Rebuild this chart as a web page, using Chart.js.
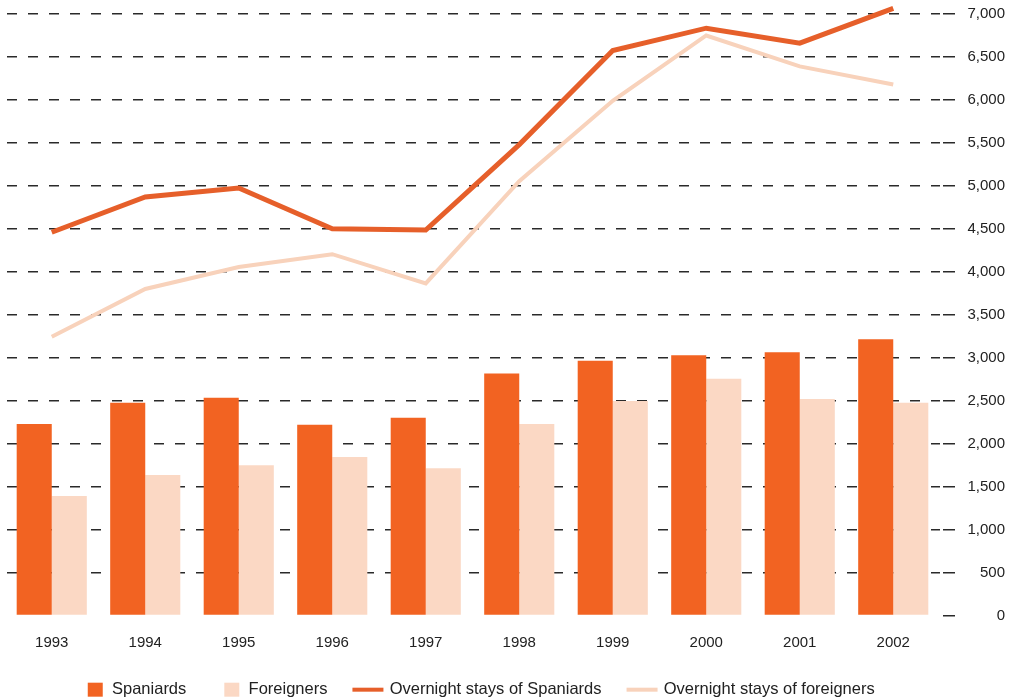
<!DOCTYPE html>
<html>
<head>
<meta charset="utf-8">
<script src="https://cdn.jsdelivr.net/npm/chart.js@4"></script>
<style>
  html, body { margin: 0; padding: 0; background: #ffffff; }
  #wrap { position: relative; width: 1019px; height: 699px; }
</style>
</head>
<body>
<div id="wrap"><canvas id="c" width="1019" height="699"></canvas></div>
<script>
// ---- data ----
const years = ['1993','1994','1995','1996','1997','1998','1999','2000','2001','2002'];
const spaniards = [2230, 2475, 2535, 2220, 2300, 2815, 2965, 3030, 3065, 3215];
const foreigners = [1390, 1635, 1750, 1845, 1715, 2230, 2495, 2755, 2520, 2475];
const staysSpaniards = [4460, 4870, 4975, 4500, 4485, 5480, 6575, 6835, 6660, 7065];
const staysForeigners = [3245, 3800, 4055, 4205, 3865, 5055, 5990, 6750, 6390, 6180];
const yTickValues = [0, 500, 1000, 1500, 2000, 2500, 3000, 3500, 4000, 4500, 5000, 5500, 6000, 6500, 7000];
const legendLabels = ['Spaniards', 'Foreigners', 'Overnight stays of Spaniards', 'Overnight stays of foreigners'];

// ---- styles ----
const C_SPA_BAR = '#F26322';
const C_FOR_BAR = '#FBD8C4';
const C_SPA_LINE = '#E65F2A';
const C_FOR_LINE = '#F8D2BB';
const TEXT = '#222222';
const GRID = '#2a2a2a';
const FONT = "'Liberation Sans', Arial, Helvetica, sans-serif";

function symbolCanvas(kind, color) {
  const cv = document.createElement('canvas');
  cv.width = 60; cv.height = 16;
  const g = cv.getContext('2d');
  g.fillStyle = color;
  if (kind === 'box') {
    g.fillRect(40, 1, 15, 14);
  } else {
    g.fillRect(27, 6, 31, 4);
  }
  return cv;
}
const symbols = [
  symbolCanvas('box', C_SPA_BAR),
  symbolCanvas('box', C_FOR_BAR),
  symbolCanvas('line', C_SPA_LINE),
  symbolCanvas('line', C_FOR_LINE)
];

const legendShift = {
  id: 'legendShift',
  afterLayout(chart) {
    const lg = chart.legend;
    if (!lg) return;
    const dx = 44.75, dy = 8.9;
    lg.left += dx; lg.right += dx;
    lg.top += dy; lg.bottom += dy;
  }
};

new Chart(document.getElementById('c'), {
  type: 'bar',
  data: {
    labels: years,
    datasets: [
      { type: 'bar', label: legendLabels[0], data: spaniards, backgroundColor: C_SPA_BAR, order: 2,
        categoryPercentage: 0.75, barPercentage: 1.0 },
      { type: 'bar', label: legendLabels[1], data: foreigners, backgroundColor: C_FOR_BAR, order: 2,
        categoryPercentage: 0.75, barPercentage: 1.0 },
      { type: 'line', label: legendLabels[2], data: staysSpaniards, borderColor: C_SPA_LINE, borderWidth: 5,
        pointRadius: 0, tension: 0, order: 0, clip: false, borderJoinStyle: 'miter' },
      { type: 'line', label: legendLabels[3], data: staysForeigners, borderColor: C_FOR_LINE, borderWidth: 4,
        pointRadius: 0, tension: 0, order: 1, clip: false, borderJoinStyle: 'miter' }
    ]
  },
  options: {
    responsive: false,
    animation: false,
    devicePixelRatio: 1,
    layout: { padding: { left: 5, right: 14, top: 14, bottom: 0 } },
    plugins: {
      tooltip: { enabled: false },
      legend: {
        display: true,
        position: 'bottom',
        align: 'start',
        labels: {
          usePointStyle: true,
          pointStyleWidth: 52,
          boxHeight: 16,
          padding: 2,
          color: TEXT,
          font: { family: FONT, size: 16.5 },
          generateLabels() {
            return legendLabels.map((t, i) => ({
              text: t, pointStyle: symbols[i], fillStyle: 'rgba(0,0,0,0)', strokeStyle: 'rgba(0,0,0,0)',
              lineWidth: 0, hidden: false, datasetIndex: i, fontColor: TEXT
            }));
          }
        }
      }
    },
    scales: {
      x: {
        grid: { display: false, drawTicks: false },
        border: { display: false },
        ticks: { color: TEXT, font: { family: FONT, size: 15 }, padding: 18.5 }
      },
      y: {
        position: 'right',
        min: 0,
        max: 7000,
        afterBuildTicks(scale) { scale.ticks = yTickValues.map(v => ({ value: v })); },
        afterFit(scale) { scale.width = 65; scale.paddingTop = 0; scale.paddingBottom = 0; },
        border: { display: false, dash: [10, 11], dashOffset: -2 },
        grid: {
          color: (ctx) => (ctx.tick && ctx.tick.value === 0) ? 'rgba(0,0,0,0)' : GRID,
          tickColor: GRID,
          lineWidth: 1.5,
          tickLength: 15,
          tickBorderDash: [0, 3, 12, 0],
          drawTicks: true
        },
        ticks: {
          color: TEXT,
          font: { family: FONT, size: 15 },
          padding: 12,
          crossAlign: 'far',
          callback: (v) => Number(v).toLocaleString('en-US')
        }
      }
    }
  },
  plugins: [legendShift]
});
</script>
</body>
</html>
